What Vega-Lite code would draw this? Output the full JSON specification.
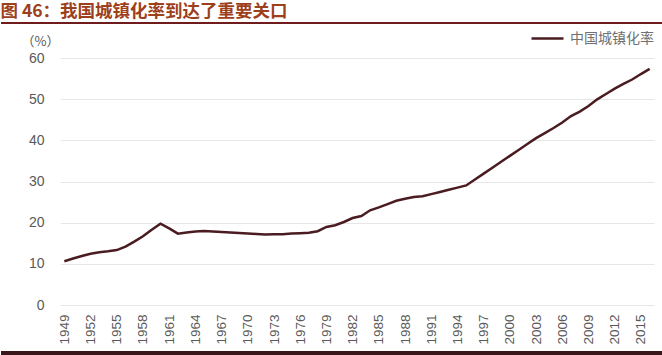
{
  "$schema": "https://vega.github.io/schema/vega-lite/v6.json",
  "padding": {"left": 0, "right": 0, "top": 3, "bottom": 0},
  "title": {
    "text": "图 46：我国城镇化率到达了重要关口",
    "anchor": "start",
    "font": "Noto Sans CJK SC",
    "fontSize": 17.5,
    "fontWeight": "bold",
    "color": "#9e3f1c",
    "offset": 1
  },
  "config": {
    "view": {"stroke": null},
    "concat": {"spacing": 5}
  },
  "resolve": {"legend": {"color": "independent"}, "scale": {"color": "independent"}},
  "vconcat": [
    {
      "width": 662,
      "height": 2,
      "view": {"fill": "#6e1c1c", "stroke": null},
      "data": {"values": [{}]},
      "mark": {"type": "rule", "opacity": 0},
      "encoding": {}
    },
    {
      "width": 662,
      "height": 247,
      "data": {
        "values": [
          {"year": 1949, "rate": 10.64}, {"year": 1950, "rate": 11.3}, {"year": 1951, "rate": 11.9},
          {"year": 1952, "rate": 12.46}, {"year": 1953, "rate": 12.8}, {"year": 1954, "rate": 13.05},
          {"year": 1955, "rate": 13.35}, {"year": 1956, "rate": 14.2}, {"year": 1957, "rate": 15.39},
          {"year": 1958, "rate": 16.7}, {"year": 1959, "rate": 18.3}, {"year": 1960, "rate": 19.75},
          {"year": 1961, "rate": 18.6}, {"year": 1962, "rate": 17.33}, {"year": 1963, "rate": 17.6},
          {"year": 1964, "rate": 17.85}, {"year": 1965, "rate": 17.98}, {"year": 1966, "rate": 17.86},
          {"year": 1967, "rate": 17.74}, {"year": 1968, "rate": 17.62}, {"year": 1969, "rate": 17.5},
          {"year": 1970, "rate": 17.38}, {"year": 1971, "rate": 17.26}, {"year": 1972, "rate": 17.13},
          {"year": 1973, "rate": 17.2}, {"year": 1974, "rate": 17.16}, {"year": 1975, "rate": 17.34},
          {"year": 1976, "rate": 17.44}, {"year": 1977, "rate": 17.55}, {"year": 1978, "rate": 17.92},
          {"year": 1979, "rate": 18.96}, {"year": 1980, "rate": 19.39}, {"year": 1981, "rate": 20.16},
          {"year": 1982, "rate": 21.13}, {"year": 1983, "rate": 21.62}, {"year": 1984, "rate": 23.01},
          {"year": 1985, "rate": 23.71}, {"year": 1986, "rate": 24.52}, {"year": 1987, "rate": 25.32},
          {"year": 1988, "rate": 25.81}, {"year": 1989, "rate": 26.21}, {"year": 1990, "rate": 26.41},
          {"year": 1991, "rate": 26.94}, {"year": 1992, "rate": 27.46}, {"year": 1993, "rate": 27.99},
          {"year": 1994, "rate": 28.51}, {"year": 1995, "rate": 29.04}, {"year": 1996, "rate": 30.48},
          {"year": 1997, "rate": 31.91}, {"year": 1998, "rate": 33.35}, {"year": 1999, "rate": 34.78},
          {"year": 2000, "rate": 36.22}, {"year": 2001, "rate": 37.66}, {"year": 2002, "rate": 39.09},
          {"year": 2003, "rate": 40.53}, {"year": 2004, "rate": 41.76}, {"year": 2005, "rate": 42.99},
          {"year": 2006, "rate": 44.34}, {"year": 2007, "rate": 45.89}, {"year": 2008, "rate": 46.99},
          {"year": 2009, "rate": 48.34}, {"year": 2010, "rate": 49.95}, {"year": 2011, "rate": 51.27},
          {"year": 2012, "rate": 52.57}, {"year": 2013, "rate": 53.73}, {"year": 2014, "rate": 54.77},
          {"year": 2015, "rate": 56.1}, {"year": 2016, "rate": 57.35}
        ]
      },
      "mark": {"type": "line", "strokeWidth": 2.5},
      "encoding": {
        "x": {
          "field": "year",
          "type": "ordinal",
          "scale": {"type": "point", "padding": 0.5, "range": [59, 653]},
          "axis": {
            "title": null,
            "values": [1949, 1952, 1955, 1958, 1961, 1964, 1967, 1970, 1973, 1976, 1979, 1982, 1985, 1988, 1991, 1994, 1997, 2000, 2003, 2006, 2009, 2012, 2015],
            "labelAngle": 270,
            "labelFont": "Liberation Sans",
            "labelFontSize": 13.5,
            "labelColor": "#595959",
            "labelPadding": 9,
            "ticks": false,
            "domain": false,
            "grid": false
          }
        },
        "y": {
          "field": "rate",
          "type": "quantitative",
          "scale": {"domain": [0, 60]},
          "axis": {
            "title": "（%）",
            "titleAngle": 0,
            "titleAlign": "center",
            "titleBaseline": "middle",
            "titleX": -20,
            "titleY": -17,
            "titleFont": "Noto Sans CJK SC",
            "titleFontSize": 13,
            "titleFontWeight": "normal",
            "titleColor": "#595959",
            "values": [0, 10, 20, 30, 40, 50, 60],
            "labelFont": "Liberation Sans",
            "labelFontSize": 14,
            "labelColor": "#595959",
            "labelPadding": 16,
            "offset": -59,
            "ticks": false,
            "domain": false,
            "grid": true,
            "gridColor": "#e6e6e6",
            "gridWidth": 1
          }
        },
        "color": {
          "datum": "中国城镇化率",
          "scale": {"range": ["#4a1c22"]},
          "legend": {
            "title": null,
            "orient": "none",
            "legendX": 537,
            "legendY": -29,
            "padding": 0,
            "symbolType": "M-2,0H2",
            "symbolSize": 256,
            "symbolStrokeWidth": 2.5,
            "labelFont": "Noto Sans CJK SC",
            "labelFontSize": 14,
            "labelColor": "#707070",
            "labelOffset": 13
          }
        }
      }
    },
    {
      "width": 662,
      "height": 6,
      "view": {"fill": "#3a1519", "stroke": null},
      "data": {"values": [{}]},
      "mark": {"type": "rule", "opacity": 0},
      "encoding": {}
    }
  ]
}
